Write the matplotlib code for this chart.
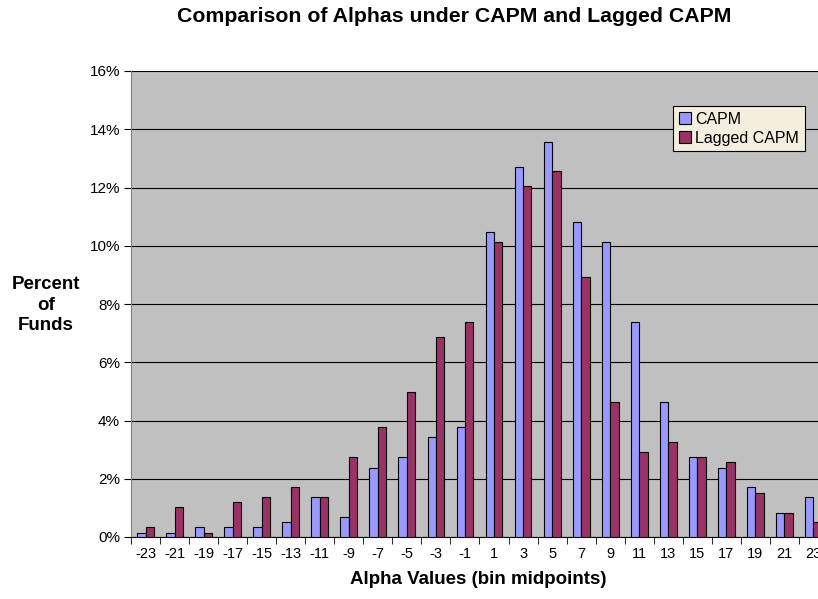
import numpy as np
import matplotlib

matplotlib.use("Agg")

import matplotlib.pyplot as plt
from matplotlib.ticker import PercentFormatter

plt.rcParams["font.family"] = ["Liberation Sans", "DejaVu Sans"]

# Data (percent of funds per alpha bin)
bins = [-23, -21, -19, -17, -15, -13, -11, -9, -7, -5, -3, -1,
        1, 3, 5, 7, 9, 11, 13, 15, 17, 19, 21, 23]
capm = [0.15, 0.15, 0.33, 0.33, 0.33, 0.52, 1.36, 0.69, 2.38, 2.74, 3.44, 3.77,
        10.48, 12.71, 13.57, 10.82, 10.14, 7.39, 4.64, 2.74, 2.38, 1.71, 0.84, 1.36]
lagged = [0.33, 1.02, 0.15, 1.20, 1.36, 1.71, 1.36, 2.75, 3.77, 4.98, 6.87, 7.39,
          10.14, 12.04, 12.57, 8.93, 4.64, 2.92, 3.26, 2.74, 2.58, 1.52, 0.84, 0.50]

fig = plt.figure(figsize=(8.18, 5.99), dpi=100)
# plot area runs past the right edge of the figure, like the original
ax = fig.add_axes([131 / 818, 62 / 599, 697 / 818, 466 / 599])

x = np.arange(len(bins))
w = 0.29
ax.bar(x - w / 2, capm, w, color="#9999FF", edgecolor="black", linewidth=0.8,
       label="CAPM", zorder=3)
ax.bar(x + w / 2, lagged, w, color="#993366", edgecolor="black", linewidth=0.8,
       label="Lagged CAPM", zorder=3)

ax.set_facecolor("#C0C0C0")
ax.set_xlim(-0.5, len(bins) - 0.5)
ax.set_ylim(0, 16)
ax.set_yticks(np.arange(0, 17, 2))
ax.yaxis.set_major_formatter(PercentFormatter(decimals=0))
ax.grid(axis="y", color="black", linewidth=0.8, zorder=1)

ax.set_xticks(x)
ax.set_xticklabels([str(b) for b in bins])
ax.set_xticks(np.arange(-0.5, len(bins), 1), minor=True)
ax.tick_params(axis="x", which="major", length=0, labelsize=10.5, pad=7)
ax.tick_params(axis="x", which="minor", length=5, direction="out", color="black")
ax.tick_params(axis="y", length=5, direction="out", labelsize=11, pad=3)

for side in ["top", "right"]:
    ax.spines[side].set_visible(False)
ax.spines["left"].set_color("#808080")
ax.spines["bottom"].set_color("black")

fig.text(454 / 818, 1 - 17 / 599, "Comparison of Alphas under CAPM and Lagged CAPM",
         ha="center", va="center", fontsize=15.3, fontweight="bold")
fig.text(46 / 818, 1 - 305 / 599, "Percent\nof\nFunds", ha="center", va="center",
         fontsize=13.5, fontweight="bold", linespacing=1.25)
fig.text(478 / 818, 1 - 580 / 599, "Alpha Values (bin midpoints)", ha="center",
         va="center", fontsize=13.5, fontweight="bold")

leg = ax.legend(loc="upper left", bbox_to_anchor=(673 / 818, 1 - 106 / 599),
                bbox_transform=fig.transFigure, frameon=True, fancybox=False,
                fontsize=11.5, handlelength=0.75, handleheight=0.75, handletextpad=0.3,
                borderpad=0.35, labelspacing=0.25, borderaxespad=0)
leg.get_frame().set_facecolor("#F3EEDD")
leg.get_frame().set_edgecolor("black")
leg.get_frame().set_linewidth(0.8)
leg.get_frame().set_alpha(1)

fig.savefig("out.png", dpi=100)
